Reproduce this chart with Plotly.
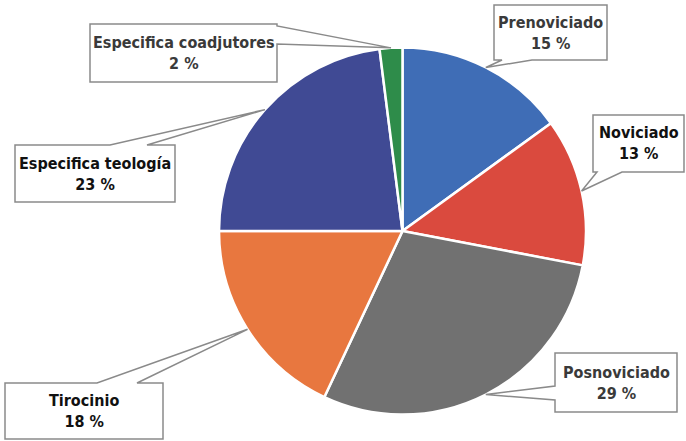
import math
import plotly.graph_objects as go

# Data
labels = ["Prenoviciado", "Noviciado", "Posnoviciado", "Tirocinio",
          "Especifica teología", "Especifica coadjutores"]
values = [15, 13, 29, 18, 23, 2]
colors = ["#3F6DB6", "#DA4A3E", "#717171", "#E8773F", "#404A94", "#2E8C4A"]
text_colors = ["#3a3a3a", "#111111", "#3a3a3a", "#111111", "#111111", "#3a3a3a"]

W, H = 686, 441

# Pie placement (pixels)
CX, CY, R = 402.5, 231.0, 183.5

# Callout boxes (pixels): box, edge carrying the pointer, pointer base span
callouts = {
    "Prenoviciado": dict(box=(494, 5, 607, 60), side="bottom", base=(502, 532)),
    "Noviciado": dict(box=(593, 115, 684, 172), side="bottom", base=(597, 622)),
    "Posnoviciado": dict(box=(555, 353, 677, 412), side="left", base=(386, 400)),
    "Tirocinio": dict(box=(5, 383, 163, 439), side="top", base=(97, 137)),
    "Especifica teología": dict(box=(15, 145, 175, 202), side="top", base=(110, 147)),
    "Especifica coadjutores": dict(box=(90, 24, 277, 82), side="right", base=(26, 44)),
}


def px(x, y):
    return x / W, 1 - y / H


def callout_path(box, side, base, tip):
    x0, y0, x1, y1 = box
    a, b = base
    if side == "top":
        pts = [(x0, y0), (a, y0), tip, (b, y0), (x1, y0), (x1, y1), (x0, y1)]
    elif side == "right":
        pts = [(x0, y0), (x1, y0), (x1, a), tip, (x1, b), (x1, y1), (x0, y1)]
    elif side == "bottom":
        pts = [(x0, y0), (x1, y0), (x1, y1), (b, y1), tip, (a, y1), (x0, y1)]
    else:
        pts = [(x0, y0), (x1, y0), (x1, y1), (x0, y1), (x0, b), tip, (x0, a)]
    segs = []
    for i, (x, y) in enumerate(pts):
        u, v = px(x, y)
        segs.append(("M" if i == 0 else "L") + f"{u:.5f},{v:.5f}")
    return " ".join(segs) + " Z"


fig = go.Figure(go.Pie(
    labels=labels,
    values=values,
    sort=False,
    direction="clockwise",
    rotation=0,
    marker=dict(colors=colors, line=dict(color="white", width=2.5)),
    textinfo="none",
    hoverinfo="label+percent",
    showlegend=False,
    domain=dict(x=[(CX - R) / W, (CX + R) / W],
                y=[1 - (CY + R) / H, 1 - (CY - R) / H]),
))

font_family = "DejaVu Sans Condensed, DejaVu Sans, sans-serif"
total = sum(values)
cum = 0.0
shapes, annotations = [], []
for lab, val, tc in zip(labels, values, text_colors):
    theta = 2 * math.pi * (cum + val / 2) / total
    cum += val
    tip = (CX + R * math.sin(theta), CY - R * math.cos(theta))
    c = callouts[lab]
    shapes.append(dict(type="path", xref="paper", yref="paper",
                       path=callout_path(c["box"], c["side"], c["base"], tip),
                       fillcolor="white", line=dict(color="#8a8a8a", width=1.5),
                       layer="above"))
    x0, y0, x1, y1 = c["box"]
    ux, uy = px((x0 + x1) / 2, (y0 + y1) / 2)
    pct = round(100 * val / total)
    annotations.append(dict(
        x=ux, y=uy, xref="paper", yref="paper", showarrow=False,
        text=f"<b>{lab}</b><br><b>{pct} %</b>",
        font=dict(family=font_family, size=16, color=tc),
        align="center", xanchor="center", yanchor="middle"))

fig.update_layout(
    width=W, height=H,
    margin=dict(l=0, r=0, t=0, b=0),
    paper_bgcolor="white", plot_bgcolor="white",
    shapes=shapes, annotations=annotations,
)

fig.write_html("out.html")
